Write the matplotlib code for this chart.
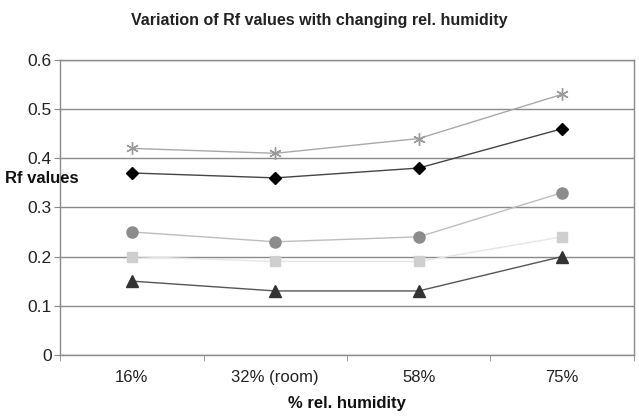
import matplotlib
matplotlib.use("Agg")
import matplotlib.pyplot as plt
import numpy as np

plt.rcParams['font.family'] = ['Liberation Sans', 'DejaVu Sans']

categories = ["16%", "32% (room)", "58%", "75%"]
star_vals = [0.42, 0.41, 0.44, 0.53]
diamond_vals = [0.37, 0.36, 0.38, 0.46]
circle_vals = [0.25, 0.23, 0.24, 0.33]
square_vals = [0.20, 0.19, 0.19, 0.24]
triangle_vals = [0.15, 0.13, 0.13, 0.20]

fig = plt.figure(figsize=(6.39, 4.16), dpi=100)
ax = fig.add_axes([0.094, 0.147, 0.898, 0.709])

x = np.arange(len(categories))

# series: values, marker, marker colour, line colour, marker size
series = [
    (star_vals, (6, 2, 0), "#9a9a9a", "#a8a8a8", 9),
    (diamond_vals, "D", "#000000", "#444444", 6),
    (circle_vals, "o", "#8c8c8c", "#bdbdbd", 8),
    (square_vals, "s", "#cfcfcf", "#e6e6e6", 7),
    (triangle_vals, "^", "#333333", "#555555", 8),
]
for vals, mk, mc, lc, ms in series:
    ax.plot(x, vals, color=lc, lw=1.0, marker=mk, markersize=ms,
            markerfacecolor=mc, markeredgecolor=mc, markeredgewidth=1.0, zorder=3)

ax.set_xlim(-0.5, len(categories) - 0.5)
ax.set_ylim(0, 0.6)
ax.set_yticks(np.arange(0, 0.61, 0.1))
ax.set_yticklabels(["0", "0.1", "0.2", "0.3", "0.4", "0.5", "0.6"], fontsize=12.5, color="#222222")
ax.yaxis.grid(True, color="#8a8a8a", lw=1.0)
ax.set_axisbelow(True)

ax.set_xticks(x)
ax.set_xticklabels(categories, fontsize=12, color="#222222")
ax.tick_params(axis="x", length=0, pad=11)
ax.set_xticks(np.arange(-0.5, len(categories)), minor=True)
ax.tick_params(axis="x", which="minor", length=4, color="#888888")
ax.tick_params(axis="y", length=4, color="#888888", pad=2)

for s in ax.spines.values():
    s.set_color("#8a8a8a")
    s.set_linewidth(1.0)

fig.text(0.5, 0.95, "Variation of Rf values with changing rel. humidity",
         ha="center", va="center", fontsize=11.5, fontweight="bold", color="#222222")
fig.text(0.008, 0.572, "Rf values", ha="left", va="center",
         fontsize=12, fontweight="bold", color="#111111")
ax.set_xlabel("% rel. humidity", fontsize=12, fontweight="bold", color="#111111", labelpad=8)

fig.savefig("out.png", dpi=100)
